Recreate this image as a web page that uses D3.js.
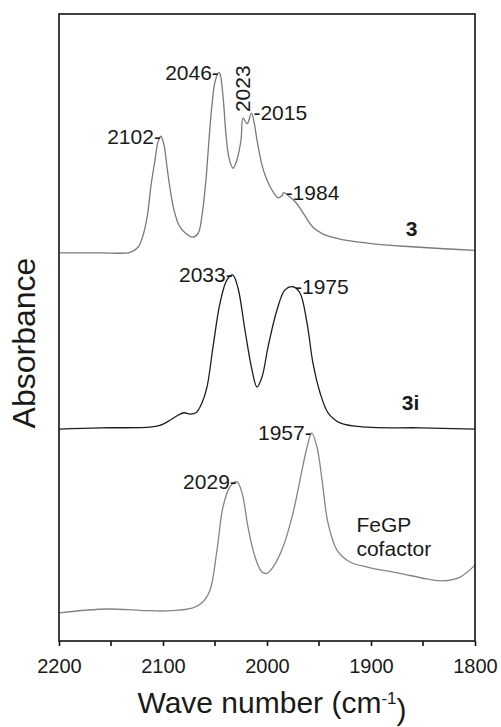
<!DOCTYPE html>
<html>
<head>
<meta charset="utf-8">
<script src="https://cdn.jsdelivr.net/npm/d3@7"></script>
<style>
  body { margin: 0; background: #fff; }
  text { font-family: Arial, "Liberation Sans", sans-serif; fill: #1a1a1a; }
</style>
</head>
<body>
<svg id="chart" width="501" height="727"></svg>
<script>
// spectra: [wave number, absorbance (offset, arb. units)]
const spec3 = [
  [2200, 61.9], [2160.6, 61.9], [2131.7, 62.0], [2124, 62.8], [2119, 64.8], [2115, 67.9],
  [2111.5, 72.7], [2107.7, 76.7], [2104.8, 79.6], [2102, 80.5], [2099, 79.1], [2096, 75.4],
  [2093, 71.9], [2089.4, 68.7], [2084.6, 66.3], [2078.8, 65.1], [2071, 64.4], [2066, 65.1],
  [2062.5, 67.9], [2058.7, 73.5], [2055.8, 79.9], [2052.9, 85.5], [2050, 89.2], [2046.3, 90.7],
  [2045, 90.4], [2042, 86.3], [2039.4, 80.7], [2036.5, 77.0], [2032.7, 75.4], [2029, 76.7],
  [2025, 79.9], [2023, 83.4], [2019, 82.5], [2015, 84.2], [2012.5, 82.8], [2009.6, 79.9],
  [2004.8, 75.9], [2000, 73.5], [1994, 71.6], [1989.4, 70.7], [1985.6, 71.0], [1984, 71.5],
  [1977.9, 70.8], [1972, 69.9], [1965.4, 68.3], [1955.8, 66.0], [1946, 64.9], [1934.6, 64.3],
  [1920, 63.8], [1896, 63.3], [1872, 63.0], [1833.7, 62.6], [1800, 62.3]
];
const spec3i = [
  [2200, 33.8], [2160.6, 34.0], [2112.5, 34.1], [2102.9, 34.4], [2093.3, 35.2], [2085.6, 36.0],
  [2079.8, 36.4], [2074, 36.2], [2068.3, 36.4], [2062.5, 38.0], [2057.7, 40.5], [2051.9, 46.9],
  [2045.2, 53.9], [2038.5, 57.6], [2033, 58.4], [2027.9, 56.3], [2021.2, 49.6], [2014.4, 43.2],
  [2009.6, 40.5], [2004.8, 42.1], [1999, 46.9], [1990.4, 52.8], [1982.7, 56.0], [1975, 56.5],
  [1968.3, 55.5], [1961.5, 50.7], [1955.8, 44.3], [1949, 39.6], [1941.3, 36.4], [1929.8, 34.8],
  [1903.8, 34.1], [1852.9, 34.0], [1800, 33.8]
];
const specFeGP = [
  [2200, 4.5], [2153.8, 5.1], [2122.1, 4.9], [2096.2, 4.8], [2071.2, 5.3], [2062.5, 6.1],
  [2054.8, 8.1], [2048.1, 14.5], [2042.3, 21.4], [2035.6, 24.6], [2029, 25.4], [2024, 23.6],
  [2018.3, 18.2], [2011.5, 13.4], [2004.8, 11.0], [2000, 10.8], [1994.2, 11.8], [1984.6, 15.0],
  [1975, 20.4], [1966.3, 27.3], [1961.5, 30.9], [1957, 33.2], [1951.9, 30.9], [1947.1, 25.7],
  [1941.3, 18.8], [1932.7, 14.5], [1920.2, 12.6], [1903.8, 11.8], [1872.1, 10.8], [1846.2, 9.9],
  [1830.8, 9.6], [1814.4, 10.2], [1800, 12.1]
];

// peak labels: text, wave number, absorbance, side
const peakLabels = [
  ["2102-", 2102, 80.5, "left"], ["2046-", 2046.3, 90.7, "left"], ["2023", 2023, 83.4, "up"],
  ["-2015", 2015, 84.2, "right"], ["-1984", 1984, 71.5, "right"],
  ["2033-", 2033, 58.4, "left"], ["-1975", 1975, 56.5, "right"],
  ["2029-", 2029, 25.4, "left"], ["1957-", 1957, 33.2, "left"]
];
// trace names
const traceNames = [
  ["3", 1861, 65.7, "middle", "bold"], ["3i", 1862, 38.0, "middle", "bold"],
  ["FeGP", 1914, 18.5, "start", "normal"], ["cofactor", 1914, 14.7, "start", "normal"]
];
const xTicks = [2200, 2100, 2000, 1900, 1800];
const xMinor = [2150, 2050, 1950, 1850];

const margin = { top: 14, right: 26, bottom: 86, left: 59 };
const width = 501 - margin.left - margin.right;
const height = 727 - margin.top - margin.bottom;

const svg = d3.select("#chart");
const g = svg.append("g").attr("transform", `translate(${margin.left},${margin.top})`);

const x = d3.scaleLinear().domain([2200, 1800]).range([0, width]);
const y = d3.scaleLinear().domain([0, 100]).range([height, 0]);

// traces
const line = d3.line()
  .x(d => x(d[0]))
  .y(d => y(d[1]))
  .curve(d3.curveCatmullRom.alpha(0.5));

[[spec3, "#7a7a7a"], [spec3i, "#1e1e1e"], [specFeGP, "#858585"]].forEach(([data, col]) => {
  g.append("path")
    .datum(data)
    .attr("fill", "none")
    .attr("stroke", col)
    .attr("stroke-width", 1.3)
    .attr("d", line);
});

// frame
g.append("rect")
  .attr("width", width).attr("height", height)
  .attr("fill", "none").attr("stroke", "#111").attr("stroke-width", 1.6);

// x axis
const xAxis = g.append("g")
  .attr("transform", `translate(0,${height})`)
  .call(d3.axisBottom(x).tickValues(xTicks).tickSize(5).tickPadding(13).tickFormat(d3.format("d")));
xAxis.select(".domain").remove();
xAxis.selectAll(".tick line").attr("stroke", "#111").attr("stroke-width", 1.6);
xAxis.selectAll("text").style("font-size", "20px").attr("fill", "#1a1a1a");

g.append("g")
  .attr("transform", `translate(0,${height})`)
  .selectAll("line")
  .data(xMinor)
  .join("line")
  .attr("x1", d => x(d)).attr("x2", d => x(d))
  .attr("y1", 0).attr("y2", 5)
  .attr("stroke", "#111").attr("stroke-width", 1.6);

// peak labels
peakLabels.forEach(([t, wn, a, side]) => {
  const px = x(wn), py = y(a);
  const txt = g.append("text").style("font-size", "21px").text(t);
  if (side === "left") {
    txt.attr("x", px).attr("y", py).attr("dy", "0.35em").attr("text-anchor", "end");
  } else if (side === "right") {
    txt.attr("x", px + 2).attr("y", py).attr("dy", "0.35em").attr("text-anchor", "start");
  } else {
    txt.attr("transform", `translate(${px + 7},${py - 6}) rotate(-90)`).attr("text-anchor", "start");
  }
});

traceNames.forEach(([t, wn, a, anchor, weight]) => {
  g.append("text")
    .attr("x", x(wn)).attr("y", y(a)).attr("dy", "0.35em")
    .attr("text-anchor", anchor)
    .style("font-size", "21px")
    .style("font-weight", weight)
    .text(t);
});

// axis titles
const xTitle = svg.append("text")
  .attr("x", margin.left + width / 2 + 5)
  .attr("y", 713)
  .attr("text-anchor", "middle")
  .style("font-size", "30px");
xTitle.append("tspan").text("Wave number (cm");
xTitle.append("tspan").attr("dy", "-0.55em").style("font-size", "17px").text("-1");
xTitle.append("tspan").attr("dy", "0.55em").text(")");

svg.append("text")
  .attr("transform", `translate(35,343) rotate(-90)`)
  .attr("text-anchor", "middle")
  .style("font-size", "32px")
  .text("Absorbance");
</script>
</body>
</html>
